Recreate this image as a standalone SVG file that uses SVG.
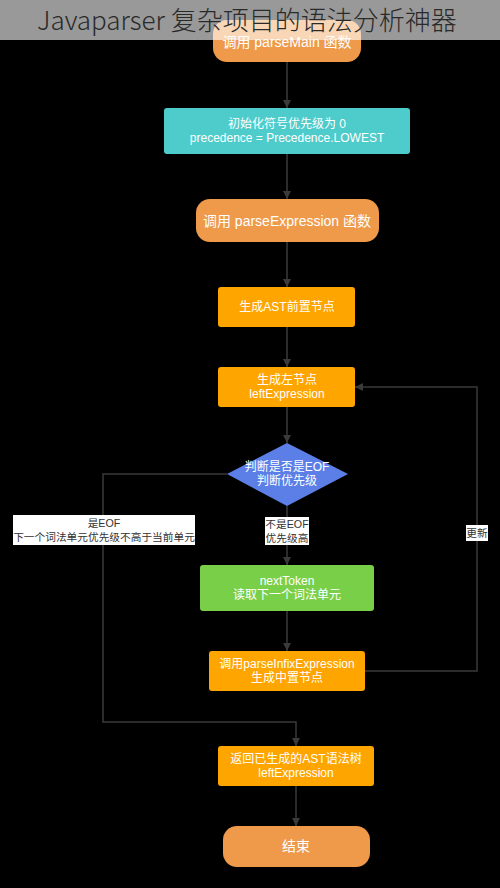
<svg xmlns="http://www.w3.org/2000/svg" width="500" height="888" viewBox="0 0 500 888">
<style>
text{font-family:"Liberation Sans","Noto Sans CJK SC",sans-serif;text-anchor:middle}
.nt{fill:#fff;font-size:12px}
.pt{fill:#fff;font-size:14px}
.pill{fill:#EE9A4A}
.box{fill:#FFA500}
.ln{fill:none;stroke:#3a3a3a;stroke-width:1.5}
.lb{fill:#fff}
.lt{fill:#333;font-size:10.7px}
</style>
<defs>
<marker id="ah" viewBox="0 0 10 10" refX="10" refY="5" markerWidth="8" markerHeight="8" markerUnits="userSpaceOnUse" orient="auto">
<path d="M0,0 L10,5 L0,10 z" fill="#3a3a3a"/>
</marker>
</defs>
<rect width="500" height="888" fill="#000"/>
<g id="connectors">
<path class="ln" d="M287,62 V108" marker-end="url(#ah)"/>
<path class="ln" d="M287,154 V199" marker-end="url(#ah)"/>
<path class="ln" d="M287,242 V287" marker-end="url(#ah)"/>
<path class="ln" d="M287,327 V367" marker-end="url(#ah)"/>
<path class="ln" d="M287,407 V443" marker-end="url(#ah)"/>
<path class="ln" d="M287,506 V565" marker-end="url(#ah)"/>
<path class="ln" d="M287,611 V651" marker-end="url(#ah)"/>
<path class="ln" d="M365,671 H477 V387 H355" marker-end="url(#ah)"/>
<path class="ln" d="M227,474 H103 V722 H296 V746" marker-end="url(#ah)"/>
<path class="ln" d="M296,786 V826" marker-end="url(#ah)"/>
<rect class="lb" x="13" y="515" width="182" height="30"/>
<text class="lt" x="104" y="527">是EOF</text>
<text class="lt" x="104" y="541">下一个词法单元优先级不高于当前单元</text>
<rect class="lb" x="265" y="517" width="44" height="28"/>
<text class="lt" x="287" y="528">不是EOF</text>
<text class="lt" x="287" y="542">优先级高</text>
<rect class="lb" x="466" y="525" width="22" height="16"/>
<text class="lt" x="477" y="537">更新</text>
</g>
<g id="n1"><rect class="pill" x="213" y="20" width="148" height="42" rx="14"/><text class="pt" x="287" y="47">调用 parseMain 函数</text></g>
<g id="n2"><rect fill="#4ECBCB" x="164" y="108" width="246" height="46" rx="3"/><text class="nt" x="287" y="128">初始化符号优先级为 0</text><text class="nt" x="287" y="142">precedence = Precedence.LOWEST</text></g>
<g id="n3"><rect class="pill" x="196" y="199" width="183" height="43" rx="14"/><text class="pt" x="287" y="226">调用 parseExpression 函数</text></g>
<g id="n4"><rect class="box" x="218" y="287" width="137" height="40" rx="3"/><text class="nt" x="287" y="311">生成AST前置节点</text></g>
<g id="n5"><rect class="box" x="218" y="367" width="137" height="40" rx="3"/><text class="nt" x="287" y="384">生成左节点</text><text class="nt" x="287" y="398">leftExpression</text></g>
<g id="n6"><path fill="#5B7FE6" d="M287,443 L348,474 L287,506 L227,474 z"/><text class="nt" x="287" y="471">判断是否是EOF</text><text class="nt" x="287" y="485">判断优先级</text></g>
<g id="n7"><rect fill="#7ACF48" x="200" y="565" width="174" height="46" rx="3"/><text class="nt" x="287" y="585">nextToken</text><text class="nt" x="287" y="599">读取下一个词法单元</text></g>
<g id="n8"><rect class="box" x="209" y="651" width="156" height="40" rx="3"/><text class="nt" x="287" y="668">调用parseInfixExpression</text><text class="nt" x="287" y="682">生成中置节点</text></g>
<g id="n9"><rect class="box" x="218" y="746" width="156" height="40" rx="3"/><text class="nt" x="296" y="763">返回已生成的AST语法树</text><text class="nt" x="296" y="777">leftExpression</text></g>
<g id="n10"><rect class="pill" x="223" y="826" width="147" height="41" rx="14"/><text class="pt" x="296" y="851">结束</text></g>
<g id="title">
<rect width="500" height="40" fill="#fff" fill-opacity="0.6"/>
<text x="37" y="30" style="text-anchor:start;font-family:'Noto Sans CJK SC','Noto Sans',sans-serif;font-weight:300;font-size:26px;fill:#2a2a2a">Javaparser 复杂项目的语法分析神器</text>
</g>
</svg>
